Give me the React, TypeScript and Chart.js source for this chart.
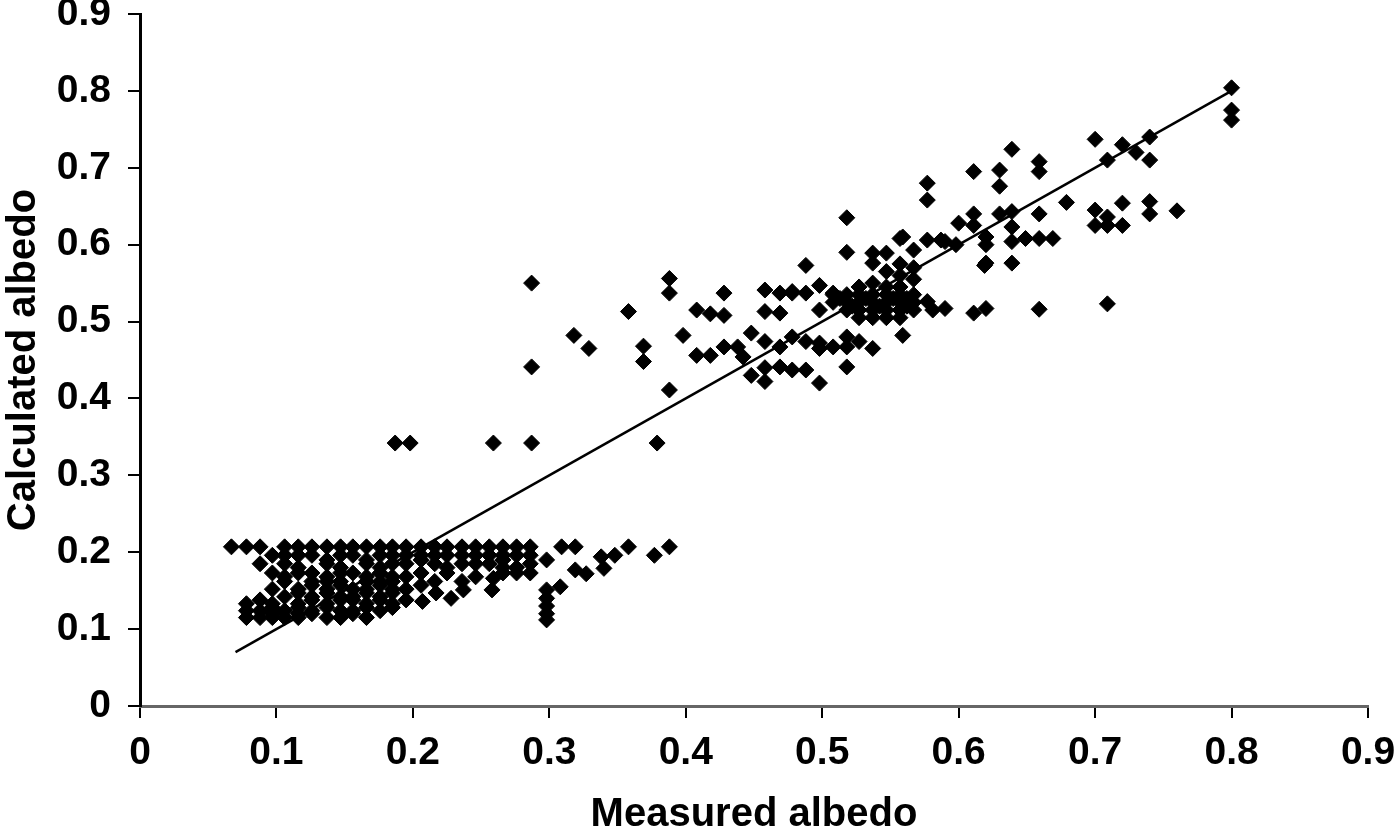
import React, { useEffect, useRef } from "react";
import { Chart, registerables } from "chart.js";

Chart.register(...registerables);

// Tick labels
const xTickValues = [0, 0.1, 0.2, 0.3, 0.4, 0.5, 0.6, 0.7, 0.8, 0.9];
const yTickValues = [0, 0.1, 0.2, 0.3, 0.4, 0.5, 0.6, 0.7, 0.8, 0.9];
const xTitle = "Measured albedo";
const yTitle = "Calculated albedo";

// Low-albedo cluster rows: [measured, calculated]
const lowRowTop: number[][] = [
  [0.067, 0.207], [0.078, 0.207], [0.088, 0.207], [0.106, 0.207], [0.116, 0.207], [0.126, 0.207],
  [0.137, 0.207], [0.147, 0.207], [0.156, 0.207], [0.166, 0.207], [0.176, 0.207], [0.185, 0.207],
  [0.195, 0.207], [0.206, 0.207], [0.216, 0.207], [0.225, 0.207], [0.236, 0.207], [0.246, 0.207],
  [0.256, 0.207], [0.266, 0.207], [0.276, 0.207], [0.286, 0.207], [0.309, 0.207], [0.319, 0.207],
];
const lowRowsUpper: number[][] = [
  [0.097, 0.196], [0.106, 0.196], [0.116, 0.196], [0.126, 0.196], [0.147, 0.196], [0.156, 0.196],
  [0.176, 0.196], [0.185, 0.196], [0.195, 0.196], [0.206, 0.196], [0.216, 0.196], [0.225, 0.196],
  [0.236, 0.196], [0.246, 0.196], [0.256, 0.196], [0.266, 0.196], [0.276, 0.196], [0.286, 0.196],
  [0.137, 0.19], [0.166, 0.19], [0.206, 0.19], [0.266, 0.19],
  [0.088, 0.185], [0.106, 0.185], [0.137, 0.185], [0.166, 0.185], [0.185, 0.185], [0.195, 0.185],
  [0.216, 0.185], [0.236, 0.185], [0.246, 0.185], [0.256, 0.185], [0.286, 0.185],
  [0.116, 0.18], [0.147, 0.18], [0.176, 0.18], [0.225, 0.18], [0.266, 0.18], [0.276, 0.18],
  [0.097, 0.173], [0.116, 0.173], [0.126, 0.173], [0.147, 0.173], [0.156, 0.173], [0.176, 0.173],
  [0.206, 0.173], [0.225, 0.173], [0.266, 0.173], [0.276, 0.173], [0.286, 0.173],
  [0.106, 0.168], [0.137, 0.168], [0.166, 0.168], [0.185, 0.168], [0.195, 0.168], [0.246, 0.168],
];
const lowRowsLower: number[][] = [
  [0.106, 0.162], [0.126, 0.162], [0.137, 0.162], [0.147, 0.162], [0.166, 0.162], [0.176, 0.162],
  [0.185, 0.162], [0.216, 0.162], [0.236, 0.162], [0.259, 0.166],
  [0.126, 0.157], [0.147, 0.157], [0.176, 0.157], [0.206, 0.157],
  [0.097, 0.152], [0.116, 0.152], [0.137, 0.152], [0.156, 0.152], [0.166, 0.152], [0.185, 0.152],
  [0.195, 0.152], [0.258, 0.151], [0.237, 0.151],
  [0.116, 0.147], [0.137, 0.147], [0.166, 0.147], [0.185, 0.147],
  [0.106, 0.142], [0.126, 0.142], [0.147, 0.142], [0.156, 0.142], [0.176, 0.142], [0.217, 0.147],
  [0.228, 0.14],
  [0.088, 0.138], [0.126, 0.138], [0.147, 0.138], [0.156, 0.138], [0.176, 0.138], [0.195, 0.138],
  [0.078, 0.133], [0.097, 0.133], [0.116, 0.133], [0.137, 0.133], [0.166, 0.133], [0.185, 0.133],
  [0.207, 0.136],
  [0.097, 0.128], [0.116, 0.128], [0.137, 0.128], [0.166, 0.128], [0.185, 0.128],
  [0.078, 0.124], [0.088, 0.124], [0.106, 0.124], [0.126, 0.124], [0.147, 0.124], [0.156, 0.124],
  [0.176, 0.124],
  [0.097, 0.12], [0.116, 0.12], [0.126, 0.12], [0.156, 0.12],
  [0.078, 0.115], [0.088, 0.115], [0.097, 0.115], [0.106, 0.115], [0.116, 0.115], [0.137, 0.115],
  [0.147, 0.115], [0.166, 0.115],
];
const lowTail: number[][] = [
  [0.298, 0.19], [0.298, 0.151], [0.298, 0.14], [0.298, 0.13], [0.298, 0.12], [0.298, 0.112],
  [0.308, 0.155], [0.319, 0.177], [0.327, 0.172], [0.34, 0.179], [0.338, 0.194], [0.348, 0.196],
  [0.358, 0.207], [0.377, 0.196], [0.388, 0.207],
];

// Scattered middle points
const sparseMid: number[][] = [
  [0.187, 0.342], [0.198, 0.342], [0.259, 0.342], [0.287, 0.342], [0.287, 0.441], [0.287, 0.55],
  [0.318, 0.482], [0.329, 0.465], [0.358, 0.513], [0.369, 0.468], [0.369, 0.448], [0.388, 0.556],
  [0.388, 0.537], [0.398, 0.482], [0.388, 0.411], [0.379, 0.342],
];

// Middle cluster
const midCluster: number[][] = [
  [0.408, 0.515], [0.418, 0.51], [0.428, 0.508], [0.428, 0.537], [0.408, 0.456], [0.418, 0.456],
  [0.428, 0.467], [0.438, 0.467], [0.442, 0.454], [0.448, 0.485], [0.448, 0.43], [0.458, 0.44],
  [0.458, 0.422], [0.469, 0.441], [0.478, 0.437], [0.488, 0.437], [0.498, 0.42], [0.518, 0.441],
  [0.458, 0.541], [0.469, 0.537], [0.478, 0.537], [0.488, 0.537], [0.498, 0.547], [0.508, 0.537],
  [0.488, 0.573], [0.518, 0.59], [0.518, 0.635], [0.458, 0.513], [0.469, 0.511], [0.498, 0.515],
  [0.458, 0.474], [0.469, 0.467], [0.478, 0.48], [0.488, 0.474], [0.498, 0.465], [0.508, 0.467],
  [0.518, 0.48], [0.518, 0.467], [0.527, 0.474], [0.537, 0.465], [0.478, 0.539], [0.498, 0.472],
];
const denseBlock: number[][] = [
  [0.527, 0.545], [0.537, 0.55], [0.547, 0.545], [0.557, 0.545],
  [0.508, 0.535], [0.518, 0.535], [0.527, 0.535], [0.537, 0.535], [0.547, 0.535], [0.557, 0.535], [0.567, 0.535],
  [0.513, 0.53], [0.532, 0.53], [0.552, 0.53], [0.562, 0.53],
  [0.508, 0.525], [0.518, 0.525], [0.527, 0.525], [0.537, 0.525], [0.547, 0.525], [0.557, 0.525], [0.567, 0.525], [0.577, 0.526],
  [0.522, 0.52], [0.542, 0.52], [0.562, 0.52],
  [0.518, 0.515], [0.527, 0.515], [0.537, 0.515], [0.547, 0.515], [0.557, 0.515], [0.567, 0.515], [0.581, 0.515], [0.59, 0.517],
  [0.527, 0.505], [0.537, 0.505], [0.547, 0.505], [0.557, 0.505],
  [0.537, 0.576], [0.537, 0.589], [0.547, 0.589], [0.557, 0.56], [0.557, 0.575], [0.557, 0.608],
  [0.567, 0.593], [0.567, 0.57], [0.577, 0.606], [0.587, 0.606], [0.567, 0.555], [0.547, 0.565],
  [0.559, 0.482], [0.611, 0.511], [0.62, 0.517], [0.619, 0.573],
];

// Upper points
const highPoints: number[][] = [
  [0.577, 0.68], [0.577, 0.658], [0.559, 0.61], [0.59, 0.604], [0.6, 0.628], [0.598, 0.6],
  [0.611, 0.64], [0.611, 0.625], [0.611, 0.695], [0.62, 0.61], [0.62, 0.6], [0.62, 0.576],
  [0.639, 0.576], [0.639, 0.623], [0.639, 0.604], [0.639, 0.643], [0.639, 0.724], [0.63, 0.697],
  [0.63, 0.676], [0.63, 0.64], [0.659, 0.708], [0.659, 0.695], [0.659, 0.64], [0.649, 0.608],
  [0.659, 0.608], [0.669, 0.608], [0.679, 0.655], [0.7, 0.737], [0.7, 0.645], [0.7, 0.625],
  [0.709, 0.636], [0.709, 0.625], [0.72, 0.625], [0.72, 0.654], [0.709, 0.71], [0.72, 0.73],
  [0.73, 0.72], [0.74, 0.74], [0.74, 0.71], [0.74, 0.656], [0.74, 0.64], [0.76, 0.644],
  [0.8, 0.804], [0.8, 0.775], [0.8, 0.762], [0.659, 0.516], [0.709, 0.523],
];

// 1:1 fit line end points
const fitLine: number[][] = [[0.07, 0.07], [0.8, 0.8]];

const allPoints = [
  ...lowRowTop, ...lowRowsUpper, ...lowRowsLower, ...lowTail,
  ...sparseMid, ...midCluster, ...denseBlock, ...highPoints,
];

const FONT = "'Liberation Sans', Arial, Helvetica, sans-serif";

export default function App() {
  const ref = useRef<HTMLCanvasElement | null>(null);

  useEffect(() => {
    document.body.style.margin = "0";
    const canvas = ref.current;
    if (!canvas) return;
    const fmt = (v: any) => (Number(v) === 0 ? "0" : Number(v).toFixed(1));
    const chart = new Chart(canvas, {
      type: "scatter",
      data: {
        datasets: [
          {
            label: "fit",
            data: fitLine.map(([x, y]) => ({ x, y })),
            showLine: true,
            borderColor: "#000",
            borderWidth: 2.5,
            pointRadius: 0,
            fill: false,
          },
          {
            label: "albedo",
            data: allPoints.map(([x, y]) => ({ x, y })),
            pointStyle: "rectRot",
            pointRadius: 8,
            backgroundColor: "#000",
            borderColor: "#000",
            borderWidth: 1,
          },
        ],
      },
      options: {
        animation: false,
        responsive: false,
        devicePixelRatio: 1,
        layout: { padding: { top: 14, right: 32, left: 0, bottom: 0 } },
        plugins: { legend: { display: false }, tooltip: { enabled: false } },
        scales: {
          x: {
            type: "linear",
            min: 0,
            max: 0.9,
            afterBuildTicks: (s: any) => {
              s.ticks = xTickValues.map((v) => ({ value: v }));
            },
            afterFit: (s: any) => {
              s.height = 129;
              s.paddingLeft = 0;
              s.paddingRight = 0;
            },
            ticks: {
              color: "#000",
              padding: 12,
              maxRotation: 0,
              autoSkip: false,
              font: { family: FONT, size: 39, weight: "bold", lineHeight: 1.2 },
              callback: fmt,
            },
            grid: { drawOnChartArea: false, drawTicks: true, tickLength: 12, color: "#000", lineWidth: 2 },
            border: { display: true, color: "#666", width: 3 },
            title: {
              display: true,
              text: xTitle,
              color: "#000",
              padding: { top: 0, bottom: 0 },
              font: { family: FONT, size: 40, weight: "bold", lineHeight: 1.0 },
            },
          },
          y: {
            type: "linear",
            min: 0,
            max: 0.9,
            afterBuildTicks: (s: any) => {
              s.ticks = yTickValues.map((v) => ({ value: v }));
            },
            afterFit: (s: any) => {
              s.width = 140;
              s.paddingTop = 0;
              s.paddingBottom = 0;
            },
            ticks: {
              color: "#000",
              padding: 17,
              autoSkip: false,
              font: { family: FONT, size: 39, weight: "bold", lineHeight: 1.2 },
              callback: fmt,
            },
            grid: { drawOnChartArea: false, drawTicks: true, tickLength: 12, color: "#000", lineWidth: 2 },
            border: { display: true, color: "#000", width: 3 },
            title: {
              display: true,
              text: yTitle,
              color: "#000",
              padding: { top: 2, bottom: 0 },
              font: { family: FONT, size: 40, weight: "bold", lineHeight: 1.1 },
            },
          },
        },
      },
    });
    return () => chart.destroy();
  }, []);

  return (
    <div style={{ position: "absolute", left: 0, top: 0, width: 1400, height: 835 }}>
      <canvas ref={ref} width={1400} height={835} style={{ display: "block" }} />
    </div>
  );
}
